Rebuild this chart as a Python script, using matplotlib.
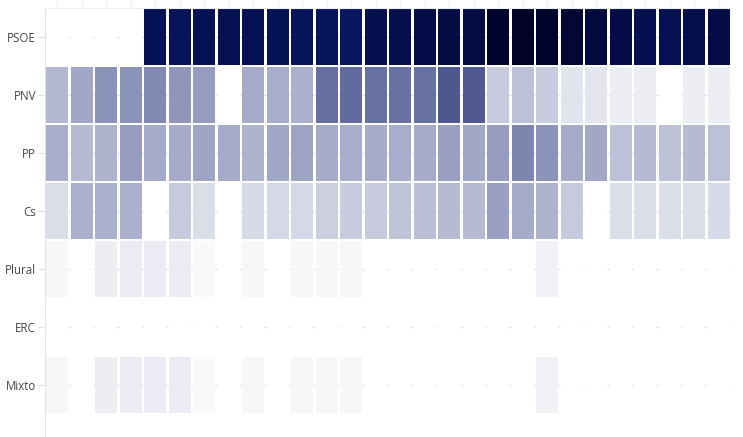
import numpy as np
import matplotlib
matplotlib.use("Agg")
import matplotlib.pyplot as plt
from matplotlib.colors import LinearSegmentedColormap, Normalize

# rows of the heatmap (top to bottom)
parties = ["PSOE", "PNV", "PP", "Cs", "Plural", "ERC", "Mixto"]

# intensity per column (0 = empty / white)
psoe = [0, 0, 0, 0, 77, 76, 77, 79, 79, 77, 75, 75, 74, 80,
        81, 83, 84, 85, 94, 97, 95, 91, 87, 83, 80, 79, 82, 83]
pnv = [25, 31, 37, 37, 40, 36, 34, 0, 30, 29, 28, 48, 49, 47,
       47, 47, 55, 54, 19, 22, 18, 10, 9, 6, 6, 0, 6, 6]
pp = [29, 24, 27, 34, 30, 30, 32, 30, 27, 31, 32, 30, 29, 30,
      29, 30, 33, 31, 34, 41, 37, 30, 31, 22, 24, 22, 24, 22]
cs = [12, 28, 28, 28, 0, 19, 12, 0, 13, 14, 14, 17, 18, 19,
      21, 23, 24, 24, 33, 30, 27, 19, 0, 12, 12, 12, 12, 13]
plural = [3, 0, 6, 7, 7, 7, 2, 0, 3, 0, 3, 3, 3, 0,
          0, 0, 0, 0, 0, 0, 5, 0, 0, 0, 0, 0, 0, 0]
erc = [0] * 28
mixto = [3, 0, 6, 7, 7, 7, 2, 0, 3, 0, 3, 3, 3, 0,
         0, 0, 0, 0, 0, 0, 5, 0, 0, 0, 0, 0, 0, 0]

rows = [psoe, pnv, pp, cs, plural, erc, mixto]
n_cols = len(psoe)

cmap = LinearSegmentedColormap.from_list(
    "navy",
    [(0.0, "#ffffff"), (0.3, "#a4aac8"), (0.5, "#5e689b"),
     (0.75, "#06145c"), (1.0, "#00001e")])
norm = Normalize(0, 100)

plt.rcParams["font.family"] = ["Open Sans", "DejaVu Sans"]

fig = plt.figure(figsize=(7.43, 4.37), dpi=100)
ax = fig.add_axes([45 / 743, 0, 686 / 743, 429 / 437])

# faint gridlines behind the cells, seen only in the gaps
for r in range(len(parties)):
    ax.axhline(r, color="#e8e8e8", lw=1, zorder=0)

cols = np.arange(n_cols)
for r, vals in enumerate(rows):
    ax.bar(cols, 0.965, bottom=r - 0.4825, width=0.9,
           color=cmap(norm(np.array(vals))), zorder=2)

ax.set_xlim(-0.5, n_cols - 0.5)
ax.set_ylim(6.897, -0.5)
ax.set_yticks(range(len(parties)))
ax.set_yticklabels(parties, fontsize=8.3, color="#444444")
ax.set_xticks(cols)
ax.tick_params(axis="x", bottom=False, labelbottom=False, top=True,
               labeltop=False, length=8, color="#f3f3f3", width=1)
ax.tick_params(axis="y", length=5, color="#e0e0e0", pad=1.5)

for side in ["right", "bottom"]:
    ax.spines[side].set_visible(False)
ax.spines["left"].set_color("#e3e3e3")
ax.spines["top"].set_color("#eeeeee")

fig.savefig("out.png", dpi=100, facecolor="white")
